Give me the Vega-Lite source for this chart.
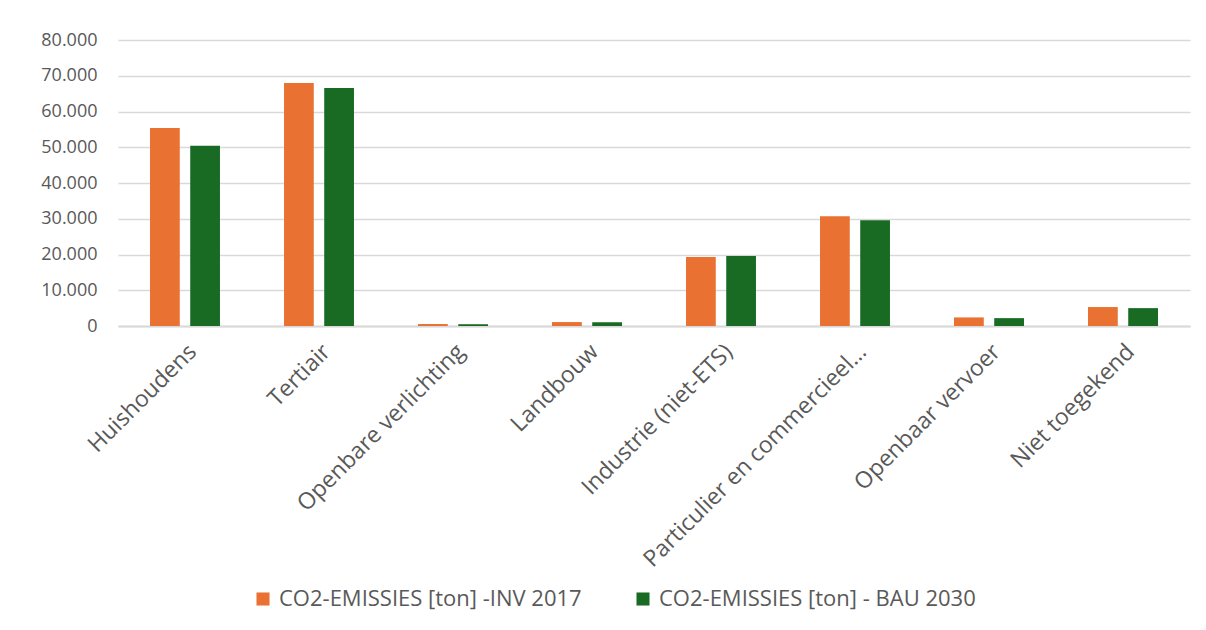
{
  "$schema": "https://vega.github.io/schema/vega-lite/v6.json",
  "width": 1072,
  "height": 286,
  "autosize": {"type": "none"},
  "padding": {"left": 118, "top": 40, "right": 16, "bottom": 304},
  "background": "white",
  "config": {
    "locale": {"number": {"decimal": ",", "thousands": ".", "grouping": [3], "currency": ["€", ""]}},
    "font": "Open Sans",
    "view": {"stroke": null},
    "axis": {"labelColor": "#595959", "labelFont": "Open Sans"}
  },
  "data": {
    "values": [
      {"category": "Huishoudens", "series": "CO2-EMISSIES [ton] -INV 2017", "value": 55400},
      {"category": "Huishoudens", "series": "CO2-EMISSIES [ton] - BAU 2030", "value": 50400},
      {"category": "Tertiair", "series": "CO2-EMISSIES [ton] -INV 2017", "value": 68000},
      {"category": "Tertiair", "series": "CO2-EMISSIES [ton] - BAU 2030", "value": 66600},
      {"category": "Openbare verlichting", "series": "CO2-EMISSIES [ton] -INV 2017", "value": 550},
      {"category": "Openbare verlichting", "series": "CO2-EMISSIES [ton] - BAU 2030", "value": 500},
      {"category": "Landbouw", "series": "CO2-EMISSIES [ton] -INV 2017", "value": 1100},
      {"category": "Landbouw", "series": "CO2-EMISSIES [ton] - BAU 2030", "value": 1050},
      {"category": "Industrie (niet-ETS)", "series": "CO2-EMISSIES [ton] -INV 2017", "value": 19300},
      {"category": "Industrie (niet-ETS)", "series": "CO2-EMISSIES [ton] - BAU 2030", "value": 19600},
      {"category": "Particulier en commercieel vervoer", "series": "CO2-EMISSIES [ton] -INV 2017", "value": 30700},
      {"category": "Particulier en commercieel vervoer", "series": "CO2-EMISSIES [ton] - BAU 2030", "value": 29600},
      {"category": "Openbaar vervoer", "series": "CO2-EMISSIES [ton] -INV 2017", "value": 2400},
      {"category": "Openbaar vervoer", "series": "CO2-EMISSIES [ton] - BAU 2030", "value": 2200},
      {"category": "Niet toegekend", "series": "CO2-EMISSIES [ton] -INV 2017", "value": 5300},
      {"category": "Niet toegekend", "series": "CO2-EMISSIES [ton] - BAU 2030", "value": 5000}
    ]
  },
  "mark": {"type": "bar"},
  "encoding": {
    "x": {
      "field": "category",
      "type": "nominal",
      "sort": null,
      "scale": {"paddingInner": 0.478, "paddingOuter": 0.239},
      "axis": {
        "title": null,
        "labelAngle": -45,
        "labelFontSize": 23,
        "labelLimit": 307,
        "labelPadding": 14,
        "ticks": false,
        "domainColor": "#d9d9d9",
        "domainWidth": 2
      }
    },
    "xOffset": {
      "field": "series",
      "type": "nominal",
      "sort": ["CO2-EMISSIES [ton] -INV 2017", "CO2-EMISSIES [ton] - BAU 2030"],
      "scale": {"paddingInner": 0.26, "paddingOuter": 0}
    },
    "y": {
      "field": "value",
      "type": "quantitative",
      "scale": {"domain": [0, 80000], "nice": false},
      "axis": {
        "title": null,
        "format": ",d",
        "values": [0, 10000, 20000, 30000, 40000, 50000, 60000, 70000, 80000],
        "labelFontSize": 18,
        "domain": false,
        "ticks": false,
        "labelPadding": 21,
        "gridColor": "#d9d9d9",
        "gridWidth": 1.5
      }
    },
    "color": {
      "field": "series",
      "type": "nominal",
      "sort": ["CO2-EMISSIES [ton] -INV 2017", "CO2-EMISSIES [ton] - BAU 2030"],
      "scale": {"range": ["#E97132", "#196B24"]},
      "legend": {
        "title": null,
        "orient": "none",
        "direction": "horizontal",
        "legendX": 134,
        "legendY": 548,
        "symbolType": "square",
        "symbolSize": 170,
        "symbolStrokeWidth": 0,
        "labelFontSize": 22,
        "labelColor": "#595959",
        "labelLimit": 400,
        "columnPadding": 50,
        "labelOffset": 5
      }
    }
  }
}
